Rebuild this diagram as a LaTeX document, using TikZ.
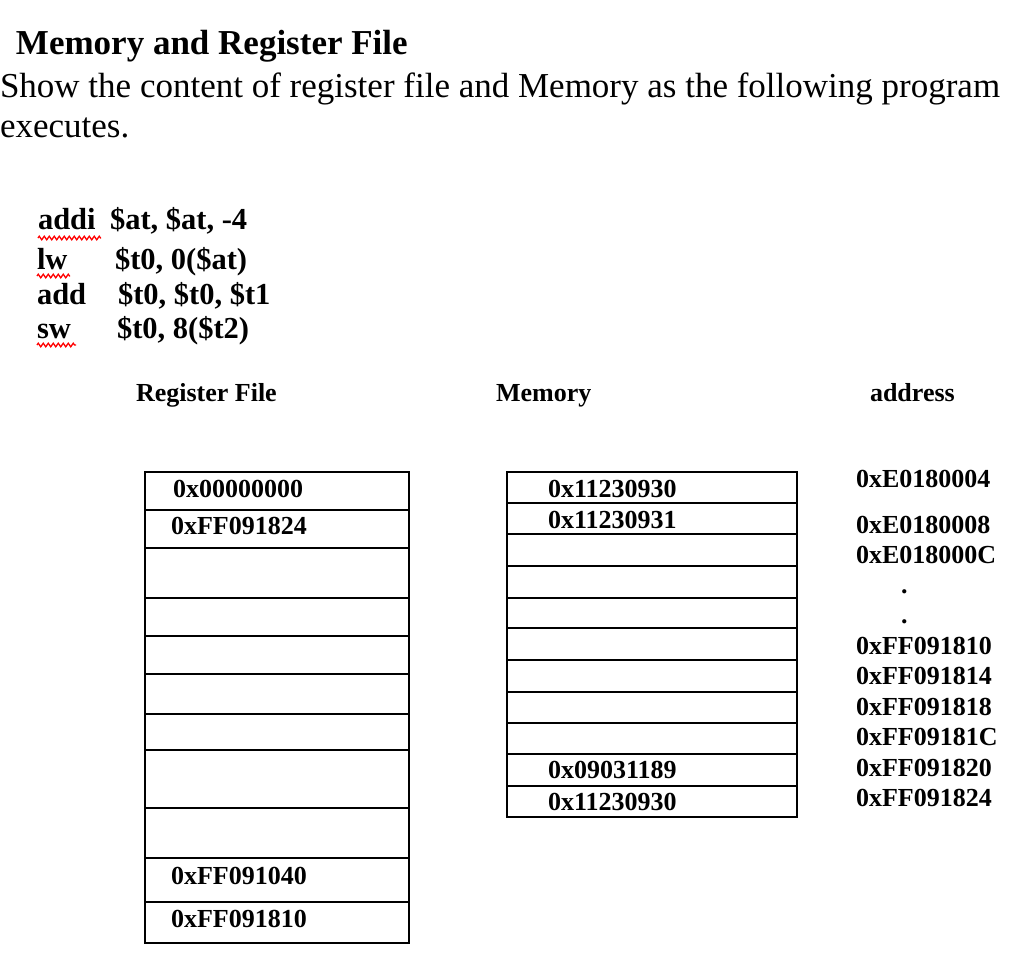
\documentclass[tikz,border=0pt]{standalone}
\usepackage{fontspec}
\setmainfont{Liberation Serif}
\usetikzlibrary{decorations.pathmorphing}
\tikzset{
  txt/.style={anchor=base west, inner sep=0pt, outer sep=0pt},
  body/.style={txt, font=\fontsize{35}{40}\selectfont},
  ttl/.style={txt, font=\fontsize{35}{40}\selectfont\bfseries},
  code/.style={txt, font=\fontsize{30.5}{34}\selectfont\bfseries},
  cell/.style={txt, font=\fontsize{26}{30}\selectfont\bfseries},
  grid/.style={draw=black, line width=1.6pt},
  squig/.style={draw=red, line width=1.3pt, decorate, decoration={zigzag, segment length=5pt, amplitude=1.8pt}}
}
\begin{document}
\begin{tikzpicture}[x=1pt,y=-1pt]
\useasboundingbox (0,0) rectangle (1022,962);
\fill[white] (0,0) rectangle (1022,962);
% heading
\node[ttl] (title) at (16,54) {Memory and Register File};
\node[body] (l1) at (0,97) {Show the content of register file and Memory as the following program};
\node[body] (l2) at (0,137) {executes.};
% code
\node[code] (c1a) at (38,229) {addi};
\node[code] (c1b) at (110,229) {\$at, \$at, -4};
\node[code] (c2a) at (37,269) {lw};
\node[code] (c2b) at (115,269) {\$t0, 0(\$at)};
\node[code] (c3a) at (37,304) {add};
\node[code] (c3b) at (118,304) {\$t0, \$t0, \$t1};
\node[code] (c4a) at (37,338) {sw};
\node[code] (c4b) at (117,338) {\$t0, 8(\$t2)};
\coordinate (u1a) at (38,238); \coordinate (u1b) at (101,238);
\coordinate (u2a) at (37,276); \coordinate (u2b) at (70,276);
\coordinate (u4a) at (37,345); \coordinate (u4b) at (76,345);
\path[squig] (u1a) -- (u1b);
\path[squig] (u2a) -- (u2b);
\path[squig] (u4a) -- (u4b);
% column headings
\node[cell] (hreg) at (136,401) {Register File};
\node[cell] (hmem) at (496,401) {Memory};
\node[cell] (hadr) at (870,401) {address};
% register file grid
\draw[grid] (145,472) rectangle (409,943);
\foreach \y in {510,548,598,636,674,714,750,808,858,902}
  \draw[grid] (145,\y) -- (409,\y);
\node[cell] (r1) at (173,497) {0x00000000};
\node[cell] (r2) at (171,534) {0xFF091824};
\node[cell] (r10) at (171,884) {0xFF091040};
\node[cell] (r11) at (171,927) {0xFF091810};
% memory grid
\draw[grid] (507,472) rectangle (797,817);
\foreach \y in {503,534,566,598,628,660,692,723,754,786}
  \draw[grid] (507,\y) -- (797,\y);
\node[cell] (m1) at (548,497) {0x11230930};
\node[cell] (m2) at (548,528) {0x11230931};
\node[cell] (m10) at (548,778) {0x09031189};
\node[cell] (m11) at (548,810) {0x11230930};
% addresses
\node[cell] (a1) at (856,487) {0xE0180004};
\node[cell] (a2) at (856,533) {0xE0180008};
\node[cell] (a3) at (856,563) {0xE018000C};
\node[cell] (d1) at (901,593) {.};
\node[cell] (d2) at (901,623) {.};
\node[cell] (a4) at (856,654) {0xFF091810};
\node[cell] (a5) at (856,684) {0xFF091814};
\node[cell] (a6) at (856,715) {0xFF091818};
\node[cell] (a7) at (856,745) {0xFF09181C};
\node[cell] (a8) at (856,776) {0xFF091820};
\node[cell] (a9) at (856,806) {0xFF091824};
\end{tikzpicture}
\end{document}
